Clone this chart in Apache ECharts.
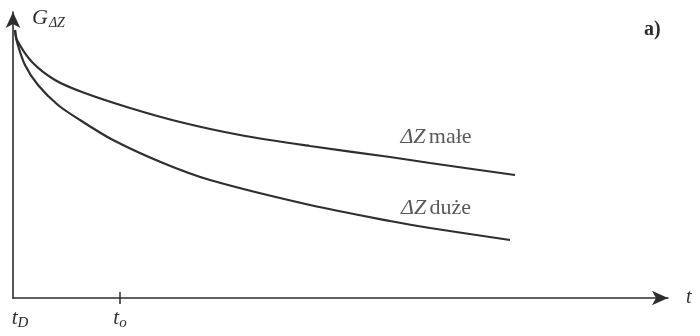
<!DOCTYPE html>
<html>
<head>
<meta charset="utf-8">
<script src="https://cdn.jsdelivr.net/npm/echarts@6/dist/echarts.min.js"></script>
<style>html,body{margin:0;padding:0;background:#fff;}#c{width:700px;height:336px;}</style>
</head>
<body>
<div id="c"></div>
<script>
// time (arbitrary units) and G values
const xSmall = [2, 4, 19, 42, 69, 117, 167, 227, 297, 377, 417, 502];
const ySmall = [268, 258, 236, 218, 206, 190, 176, 163, 152, 141, 135, 123];
const xLarge = [2, 4, 12, 25, 45, 67, 100, 150, 197, 297, 377, 417, 497];
const yLarge = [268, 256, 233, 213, 193, 178, 158, 135, 118, 93, 77, 70, 58];
const tickValues = [0, 107];
const tickLabels = ['D', 'o'];
const seriesNames = ['ΔZ małe', 'ΔZ duże'];
const labelPos = [[423, 161], [423, 90]];

const serif = 'Liberation Serif';
const ink = '#2e2e2e';

function pairs(xs, ys) { return xs.map((x, i) => [x, ys[i]]); }

const chart = echarts.init(document.getElementById('c'));
chart.setOption({
  animation: false,
  backgroundColor: '#fff',
  grid: { left: 13, top: 12, width: 655, height: 286, containLabel: false },
  xAxis: [{
    type: 'value', min: 0, max: 655,
    splitLine: { show: false },
    axisLine: { onZero: false, lineStyle: { color: ink, width: 1.6 }, symbol: ['none', 'arrow'], symbolSize: [11, 16] },
    axisTick: { show: true, customValues: [tickValues[1]], length: 6, lineStyle: { color: ink, width: 1.5 } },
    axisLabel: {
      show: true, customValues: tickValues, margin: 8,
      formatter: function (v) { return v === tickValues[0] ? '{t0|t}{s|' + tickLabels[0] + '}' : '{t|t}{s|' + tickLabels[1] + '}'; },
      rich: {
        t0: { fontFamily: serif, fontStyle: 'italic', fontSize: 21, color: ink, padding: [0, 0, 0, 14] },
        t: { fontFamily: serif, fontStyle: 'italic', fontSize: 21, color: ink },
        s: { fontFamily: serif, fontStyle: 'italic', fontSize: 15, color: ink, padding: [10, 0, 0, 0] }
      }
    },
    name: 't', nameLocation: 'end', nameGap: 18,
    nameTextStyle: { fontFamily: serif, fontStyle: 'italic', fontSize: 20, color: ink, verticalAlign: 'middle' }
  }, {
    type: 'value', min: 0, max: 655, position: 'bottom',
    splitLine: { show: false }, axisLine: { show: false },
    axisTick: { show: true, inside: true, customValues: [tickValues[1]], length: 6, lineStyle: { color: ink, width: 1.5 } },
    axisLabel: { show: false }
  }],
  yAxis: {
    type: 'value', min: 0, max: 286,
    splitLine: { show: false },
    axisLine: { show: true, onZero: false, lineStyle: { color: ink, width: 1.6 }, symbol: ['none', 'arrow'], symbolSize: [11, 16] },
    axisTick: { show: false }, axisLabel: { show: false }
  },
  graphic: [
    { type: 'text', left: 32, top: 7, style: { text: '{g|G}{s|ΔZ}', rich: {
        g: { fontFamily: serif, fontStyle: 'italic', fontSize: 22, fill: ink },
        s: { fontFamily: serif, fontStyle: 'italic', fontSize: 14, fill: ink, padding: [10, 0, 0, 1] } } } },
    { type: 'text', left: 644, top: 20, style: { text: 'a)', fontFamily: serif, fontWeight: 'bold', fontSize: 20, fill: ink } }
  ],
  series: [
    { name: seriesNames[0], type: 'line', data: pairs(xSmall, ySmall), smooth: 0.3, showSymbol: false,
      lineStyle: { color: ink, width: 2.2 } },
    { name: seriesNames[1], type: 'line', data: pairs(xLarge, yLarge), smooth: 0.3, showSymbol: false,
      lineStyle: { color: ink, width: 2.2 } },
    { type: 'scatter', silent: true, symbolSize: 1, itemStyle: { color: 'rgba(0,0,0,0)' },
      data: labelPos.map((p, i) => ({ value: p, name: seriesNames[i] })),
      label: { show: true, position: 'inside',
        formatter: function (p) { const parts = p.name.split(' '); return '{i|' + parts[0] + '} {r|' + parts[1] + '}'; },
        rich: { i: { fontFamily: serif, fontStyle: 'italic', fontSize: 22, color: ink },
                r: { fontFamily: serif, fontSize: 22, color: ink } } } }
  ]
});
</script>
</body>
</html>
